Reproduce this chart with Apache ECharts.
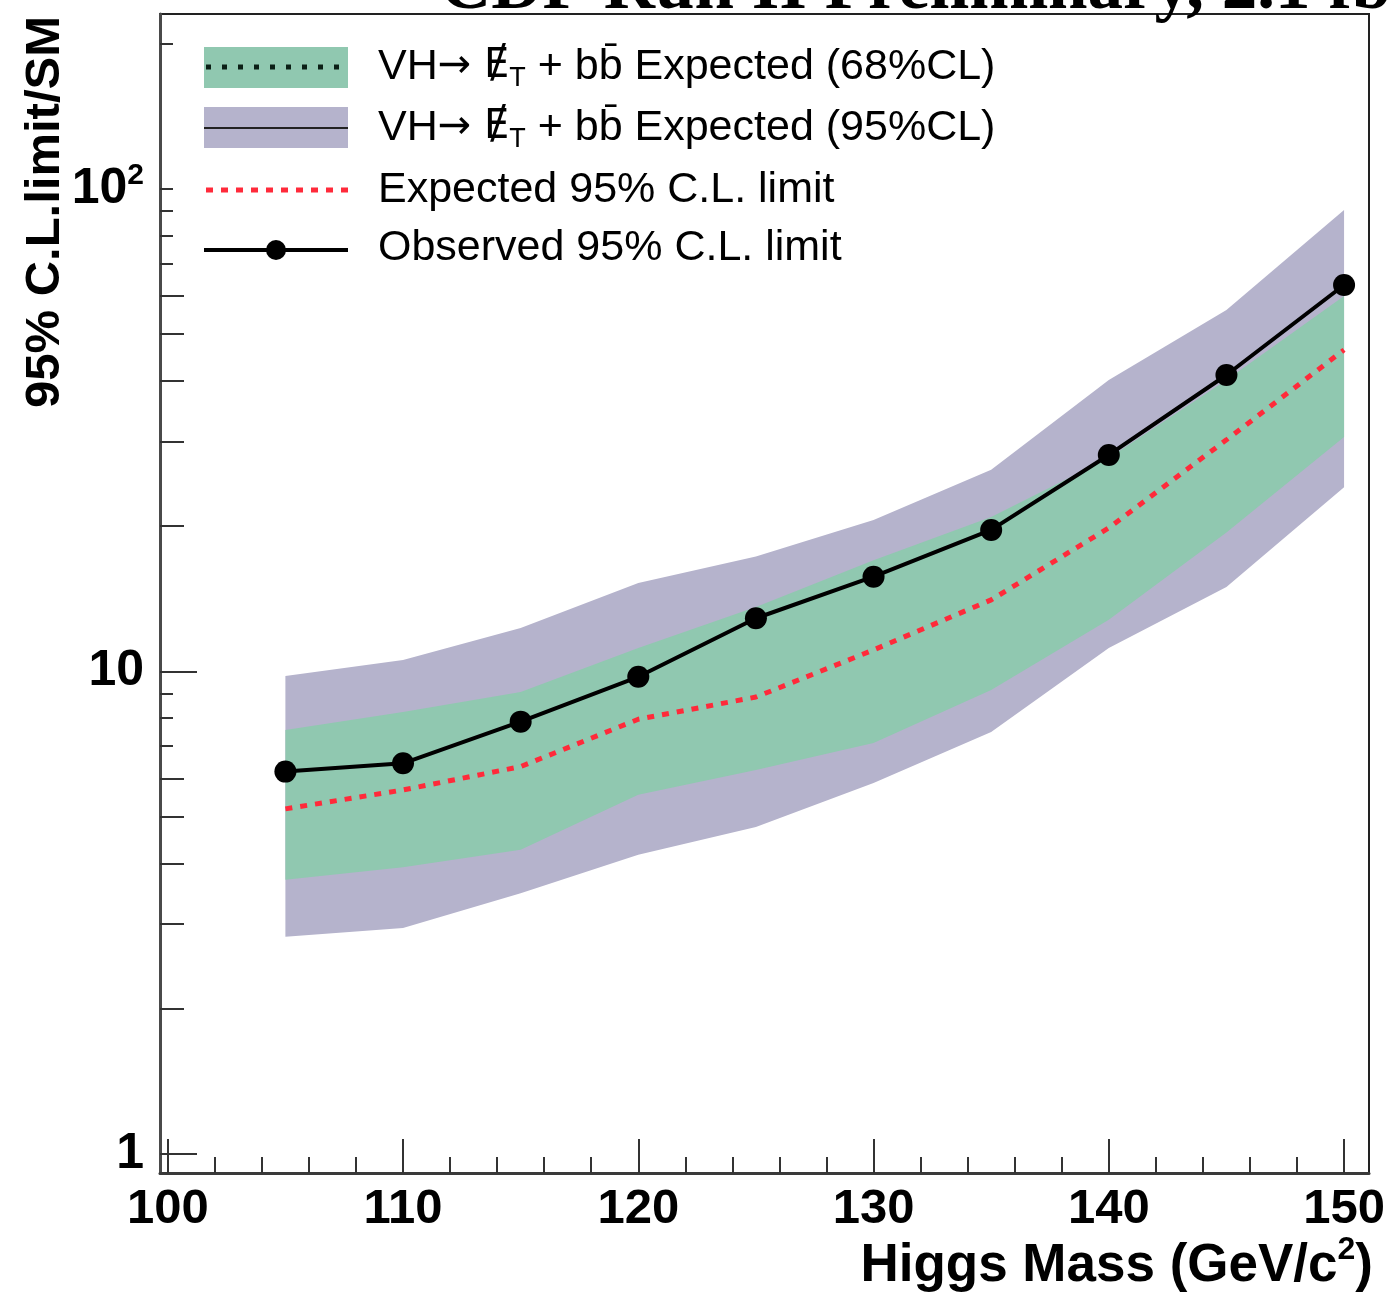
<!DOCTYPE html>
<html>
<head>
<meta charset="utf-8">
<script src="https://cdn.jsdelivr.net/npm/echarts@6/dist/echarts.min.js"></script>
<style>
html,body{margin:0;padding:0;background:#fff;}
#chart{width:1390px;height:1300px;}
</style>
</head>
<body>
<div id="chart"></div>
<script>
// ---------------- data ----------------
const masses    = [105, 110, 115, 120, 125, 130, 135, 140, 145, 150];
const observed  = [6.20, 6.45, 7.87, 9.75, 12.89, 15.72, 19.65, 28.10, 41.16, 63.24];
const expected  = [5.19, 5.68, 6.35, 7.96, 8.85, 11.08, 14.07, 19.84, 30.2, 46.4];
const band68Lo  = [3.70, 3.93, 4.27, 5.55, 6.25, 7.11, 9.15, 12.8, 19.4, 30.6];
const band68Hi  = [7.56, 8.24, 9.07, 11.19, 13.6, 17.0, 20.9, 27.7, 40.2, 60.0];
const band95Lo  = [2.82, 2.94, 3.47, 4.17, 4.76, 5.87, 7.49, 11.19, 14.97, 24.1];
const band95Hi  = [9.79, 10.56, 12.31, 15.26, 17.3, 20.6, 26.2, 40.2, 56.1, 90.5];

const xMajorTicks = [100, 110, 120, 130, 140, 150];
const xMinorTicks = [102,104,106,108,112,114,116,118,122,124,126,128,132,134,136,138,142,144,146,148];
const yLabelTicks = [1, 10, 100];
const yMajorTicks = [1, 10];
const yMidTicks   = [2, 3, 4, 5, 6, 20, 30, 40, 50, 60];
const yShortTicks = [7, 8, 9, 70, 80, 90, 100, 200];

const legendLabels = [
  'Expected (68%CL)',
  'Expected (95%CL)',
  'Expected 95% C.L. limit',
  'Observed 95% C.L. limit'
];

// ---------------- layout ----------------
const X_MIN = 99.67, X_MAX = 151.06;
const Y_MIN = 0.913, Y_MAX = 230.5;
const SANS = 'Liberation Sans';

function bandItem(lo, hi) {
  return function (params, api) {
    if (params.dataIndex !== 0) return null;
    const pts = [];
    for (let i = 0; i < masses.length; i++) pts.push(api.coord([masses[i], hi[i]]));
    for (let i = masses.length - 1; i >= 0; i--) pts.push(api.coord([masses[i], lo[i]]));
    return {
      type: 'polygon',
      shape: { points: pts },
      style: { fill: api.visual('color') }
    };
  };
}

function xAxisCfg(ticks, len, showLabels, showLine) {
  return {
    type: 'value', min: X_MIN, max: X_MAX, position: 'bottom',
    axisLine: { show: showLine, onZero: false, lineStyle: { color: '#3a3a3a', width: 3 } },
    axisTick: { show: true, inside: true, length: len, customValues: ticks, lineStyle: { color: '#333', width: 2 } },
    axisLabel: showLabels ? {
      show: true, customValues: xMajorTicks, margin: 12,
      fontSize: 49, fontWeight: 'bold', fontFamily: SANS, color: '#000'
    } : { show: false },
    splitLine: { show: false }
  };
}
function yAxisCfg(ticks, len, showLabels, showLine) {
  return {
    type: 'log', logBase: 10, min: Y_MIN, max: Y_MAX, position: 'left',
    axisLine: { show: showLine, onZero: false, lineStyle: { color: '#4a4a4a', width: 3 } },
    axisTick: { show: true, inside: true, length: len, customValues: ticks, lineStyle: { color: '#333', width: 2 } },
    axisLabel: showLabels ? {
      show: true, customValues: yLabelTicks, margin: 16,
      formatter: function (v) {
        const r = Math.round(v);
        if (r === 100) return '{b|10}{sup|2}';
        return '{b|' + r + '}';
      },
      rich: {
        b: { fontSize: 50, fontWeight: 'bold', fontFamily: SANS, color: '#000', lineHeight: 56 },
        sup: { fontSize: 30, fontWeight: 'bold', fontFamily: SANS, color: '#000', lineHeight: 30, verticalAlign: 'top' }
      }
    } : { show: false },
    splitLine: { show: false }
  };
}

// legend graphics
const LX0 = 204, LX1 = 348, LTX = 378;
const legendRows = [67, 128, 190, 248];
const legRich = {
  n: { fontSize: 43, fontFamily: SANS, color: '#1e1e1e', lineHeight: 50 },
  a: { fontSize: 40, fontFamily: 'DejaVu Sans', color: '#1e1e1e', lineHeight: 50 },
  s: { fontSize: 27, fontFamily: SANS, color: '#1e1e1e', lineHeight: 27, verticalAlign: 'bottom' }
};
function vhText(label) {
  return '{n|VH}{a|\u2192 \u0246}{s|T}{n| + bb\u0304 ' + label + '}';
}
const graphics = [
  // legend row 1
  { type: 'rect', shape: { x: LX0, y: 47, width: LX1 - LX0, height: 41 }, style: { fill: '#90c8b0' }, z: 10 },
  { type: 'line', shape: { x1: LX0 + 2, y1: 67, x2: LX1, y2: 67 }, style: { stroke: '#0b2016', lineWidth: 5, lineDash: [5, 11] }, z: 11 },
  { type: 'text', x: LTX, y: legendRows[0], style: { text: vhText(legendLabels[0]), rich: legRich, verticalAlign: 'middle', align: 'left' }, z: 11 },
  // legend row 2
  { type: 'rect', shape: { x: LX0, y: 107, width: LX1 - LX0, height: 41 }, style: { fill: '#b5b3cc' }, z: 10 },
  { type: 'line', shape: { x1: LX0, y1: 128, x2: LX1, y2: 128 }, style: { stroke: '#222', lineWidth: 2 }, z: 11 },
  { type: 'text', x: LTX, y: legendRows[1], style: { text: vhText(legendLabels[1]), rich: legRich, verticalAlign: 'middle', align: 'left' }, z: 11 },
  // legend row 3
  { type: 'line', shape: { x1: LX0 + 2, y1: 190, x2: LX1, y2: 190 }, style: { stroke: '#ff2a3a', lineWidth: 5, lineDash: [7, 8] }, z: 11 },
  { type: 'text', x: LTX, y: legendRows[2], style: { text: '{n|' + legendLabels[2] + '}', rich: legRich, verticalAlign: 'middle', align: 'left' }, z: 11 },
  // legend row 4
  { type: 'line', shape: { x1: LX0, y1: 250, x2: LX1, y2: 250 }, style: { stroke: '#000', lineWidth: 4 }, z: 11 },
  { type: 'circle', shape: { cx: 276, cy: 250, r: 10 }, style: { fill: '#000' }, z: 12 },
  { type: 'text', x: LTX, y: legendRows[3], style: { text: '{n|' + legendLabels[3] + '}', rich: legRich, verticalAlign: 'middle', align: 'left' }, z: 11 },
  // y-axis title
  { type: 'text', x: 45, y: 212, rotation: Math.PI / 2,
    style: { text: '95% C.L.limit/SM', fontSize: 49, fontWeight: 'bold', fontFamily: SANS, fill: '#000', align: 'center', verticalAlign: 'middle' } },
  // x-axis title
  { type: 'text', x: 1373, y: 1266,
    style: { text: '{b|Higgs Mass (GeV/c}{sup|2}{b|)}', align: 'right', verticalAlign: 'middle',
      rich: {
        b: { fontSize: 53, fontWeight: 'bold', fontFamily: SANS, fill: '#000', lineHeight: 64 },
        sup: { fontSize: 32, fontWeight: 'bold', fontFamily: SANS, fill: '#000', lineHeight: 32, verticalAlign: 'top' }
      } } },
  // clipped title at top
  { type: 'text', x: 440, y: -10,
    style: { text: 'CDF Run II Preliminary, 2.1 fb\u207B\u00B9', fontSize: 71, fontWeight: 'bold', fontFamily: 'Liberation Serif', fill: '#000', align: 'left', verticalAlign: 'middle' } }
];

const option = {
  animation: false,
  backgroundColor: '#ffffff',
  grid: { left: 160, top: 14, width: 1209, height: 1159, show: true, borderColor: '#222', borderWidth: 2, backgroundColor: 'transparent', containLabel: false },
  xAxis: [
    xAxisCfg(xMajorTicks, 34, true, true),
    xAxisCfg(xMinorTicks, 16, false, false)
  ],
  yAxis: [
    yAxisCfg(yMajorTicks, 37, true, true),
    yAxisCfg(yMidTicks, 24, false, false),
    yAxisCfg(yShortTicks, 13, false, false)
  ],
  graphic: graphics,
  series: [
    {
      name: 'Expected (95%CL)', type: 'custom', xAxisIndex: 0, yAxisIndex: 0, clip: true,
      renderItem: bandItem(band95Lo, band95Hi),
      itemStyle: { color: '#b5b3cc' },
      data: masses.map((m, i) => [m, band95Lo[i], band95Hi[i]]),
      encode: { x: 0, y: [1, 2] }, z: 1
    },
    {
      name: 'Expected (68%CL)', type: 'custom', xAxisIndex: 0, yAxisIndex: 0, clip: true,
      renderItem: bandItem(band68Lo, band68Hi),
      itemStyle: { color: '#90c8b0' },
      data: masses.map((m, i) => [m, band68Lo[i], band68Hi[i]]),
      encode: { x: 0, y: [1, 2] }, z: 2
    },
    {
      name: 'Expected 95% C.L. limit', type: 'line', xAxisIndex: 0, yAxisIndex: 0,
      data: masses.map((m, i) => [m, expected[i]]),
      showSymbol: false, symbol: 'none',
      lineStyle: { color: '#ff2a3a', width: 5, type: [7, 8] }, z: 3
    },
    {
      name: 'Observed 95% C.L. limit', type: 'line', xAxisIndex: 0, yAxisIndex: 0,
      data: masses.map((m, i) => [m, observed[i]]),
      symbol: 'circle', symbolSize: 22, showSymbol: true,
      itemStyle: { color: '#000' },
      lineStyle: { color: '#000', width: 4 }, z: 4
    }
  ]
};

const chart = echarts.init(document.getElementById('chart'), null, { renderer: 'canvas' });
chart.setOption(option);
</script>
</body>
</html>
